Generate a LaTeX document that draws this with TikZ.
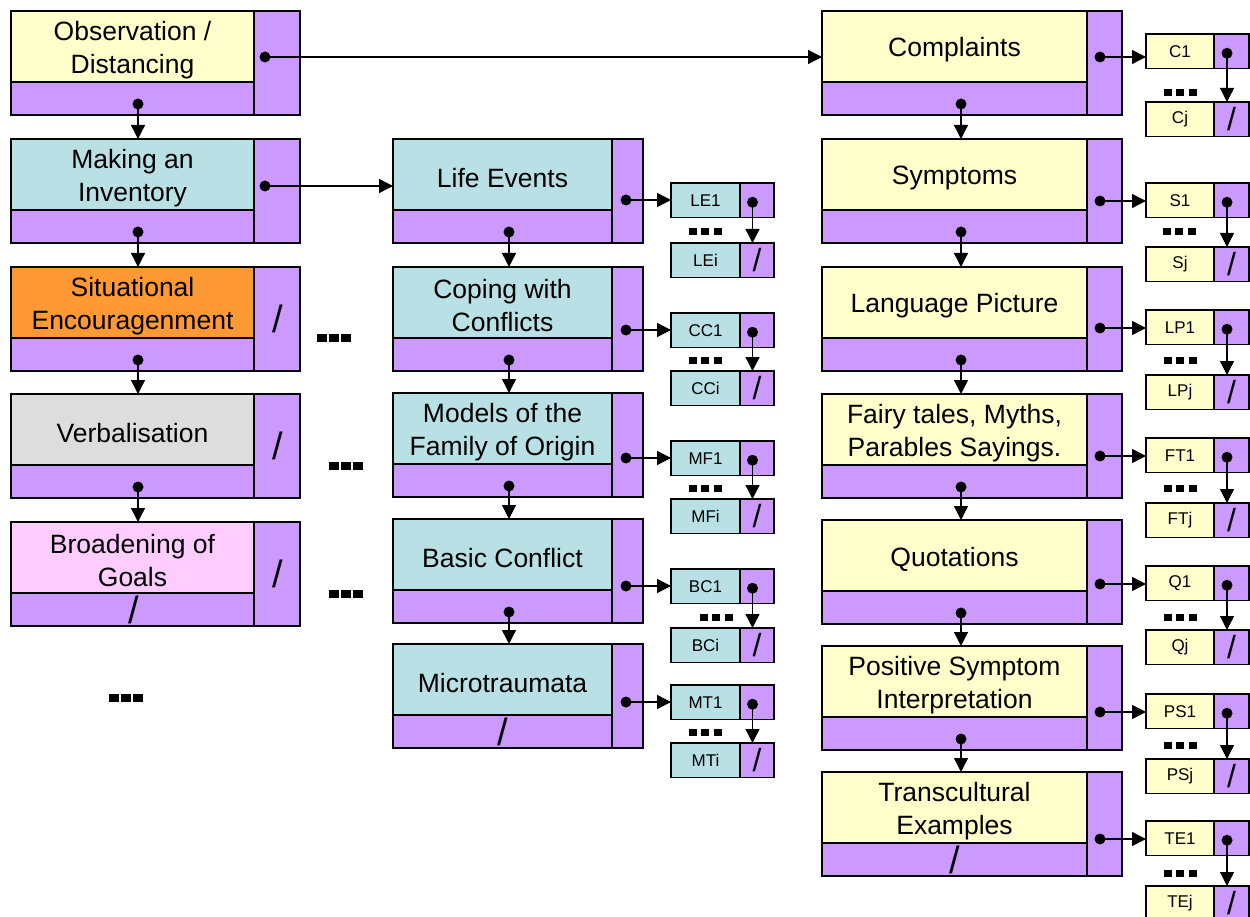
\documentclass[tikz,border=0pt]{standalone}
\usepackage{fontspec}
\setmainfont{Liberation Sans}
\usetikzlibrary{arrows.meta}

\definecolor{cellyellow}{HTML}{FFFFCC}
\definecolor{cellteal}{HTML}{B9E0E4}
\definecolor{cellpurple}{HTML}{CC99FF}
\definecolor{cellorange}{HTML}{FF9933}
\definecolor{cellgray}{HTML}{DDDDDD}
\definecolor{cellpink}{HTML}{FFCCFF}

\tikzset{
  boxcell/.style={rectangle, draw=black, line width=1.6pt, inner sep=0pt, outer sep=0pt},
  mainpart/.style={boxcell, minimum height=71pt},
  celltext/.style={inner sep=0pt, align=center, font=\fontsize{26.5}{33}\selectfont},
  lowerstrip/.style={boxcell, fill=cellpurple, minimum height=33pt},
  sidepart/.style={boxcell, fill=cellpurple, minimum height=104pt},
  leafcell/.style={boxcell, minimum height=34.5pt, font=\fontsize{17}{20}\selectfont},
  leafside/.style={boxcell, fill=cellpurple, minimum height=34.5pt},
  slashmark/.style={inner sep=0pt, font=\fontsize{38}{38}\selectfont},
  smallslash/.style={inner sep=0pt, font=\fontsize{32}{32}\selectfont},
  pointdot/.style={circle, fill=black, minimum size=11pt, inner sep=0pt, outer sep=0pt},
  linkarrow/.style={line width=1.4pt, -{Triangle[length=14pt,width=14pt]}},
}

% record with a text field, a lower pointer strip and a side pointer field
% #1 name, #2 left, #3 top, #4 main width, #5 side width, #6 fill, #7 text
\newcommand\bigcell[7]{%
  \node[mainpart, fill=#6, minimum width=#4pt, anchor=north west] (#1) at (#2,#3) {};
  \node[celltext] (#1-text) at ([yshift=-3.5pt]#1.center) {#7};
  \node[lowerstrip, minimum width=#4pt, anchor=north west] (#1-low) at (#1.south west) {};
  \node[sidepart, minimum width=#5pt, anchor=north west] (#1-side) at (#1.north east) {};
}

% first and last element of a short list
% #1 prefix, #2 left, #3 top of first, #4 top of last, #5 label width,
% #6 side width, #7 fill, #8 first label, #9 last label
\newcommand\leafpair[9]{%
  \node[leafcell, fill=#7, minimum width=#5pt, anchor=north west] (#1a) at (#2,#3) {#8};
  \node[leafside, minimum width=#6pt, anchor=north west] (#1a-side) at (#1a.north east) {};
  \node[leafcell, fill=#7, minimum width=#5pt, anchor=north west] (#1b) at (#2,#4) {#9};
  \node[leafside, minimum width=#6pt, anchor=north west] (#1b-side) at (#1b.north east) {};
  \node[smallslash] (#1b-slash) at (#1b-side.center) {/};
  \node[pointdot] (#1a-dot) at ([xshift=-4.5pt,yshift=-2pt]#1a-side.center) {};
  \draw[linkarrow] (#1a-dot.center) -- (#1a-dot |- #1b.north);
}

% square dots marking omitted elements
\newcommand\leafdots[2]{%
  \foreach \k in {-1,0,1} {\fill ({#1+\k*12.5-4},{#2-3.5}) rectangle ++(8,7);}
}
\newcommand\bigdots[2]{%
  \foreach \k in {-1,0,1} {\fill ({#1+\k*12-4.75},{#2-4}) rectangle ++(9.5,8);}
}

\begin{document}
\begin{tikzpicture}[x=1pt, y=-1pt]
\useasboundingbox (0,0) rectangle (1250,917);
\clip (0,0) rectangle (1250,917);

% ---------- left column ----------
\bigcell{obs}{11}{11}{243}{46}{cellyellow}{Observation /\\Distancing}
\bigcell{inv}{11}{139}{243}{46}{cellteal}{Making an\\Inventory}
\bigcell{sit}{11}{267}{243}{46}{cellorange}{Situational\\Encouragenment}
\bigcell{verb}{11}{394}{243}{46}{cellgray}{Verbalisation}
\bigcell{goal}{11}{522}{243}{46}{cellpink}{Broadening of\\Goals}

\node[pointdot] (obs-bd) at (138,104) {};
\node[pointdot] (inv-bd) at (138,232) {};
\node[pointdot] (sit-bd) at (138,360) {};
\node[pointdot] (verb-bd) at (138,487) {};
\draw[linkarrow] (obs-bd.center) -- (obs-bd |- inv.north);
\draw[linkarrow] (inv-bd.center) -- (inv-bd |- sit.north);
\draw[linkarrow] (sit-bd.center) -- (sit-bd |- verb.north);
\draw[linkarrow] (verb-bd.center) -- (verb-bd |- goal.north);

\node[slashmark] (sit-slash) at ([xshift=1pt]sit-side.center) {/};
\node[slashmark] (verb-slash) at ([xshift=1pt]verb-side.center) {/};
\node[slashmark] (goal-slash) at ([xshift=1pt]goal-side.center) {/};
\node[slashmark] (goal-lowslash) at ([xshift=1.5pt]goal-low.center) {/};

\node[pointdot] (obs-sd) at (265,57) {};
\node[pointdot] (inv-sd) at (265,186) {};

\bigdots{334}{338}
\bigdots{346}{466}
\bigdots{346}{594}
\bigdots{126}{698}

% ---------- middle column ----------
\bigcell{life}{393}{139}{219}{31}{cellteal}{Life Events}
\bigcell{cope}{393}{267}{219}{31}{cellteal}{Coping with\\Conflicts}
\bigcell{fam}{393}{393}{219}{31}{cellteal}{Models of the\\Family of Origin}
\bigcell{basic}{393}{519}{219}{31}{cellteal}{Basic Conflict}
\bigcell{micro}{393}{644}{219}{31}{cellteal}{Microtraumata}

\node[pointdot] (life-bd) at (509,232) {};
\node[pointdot] (cope-bd) at (509,360) {};
\node[pointdot] (fam-bd) at (509,486) {};
\node[pointdot] (basic-bd) at (509,612) {};
\draw[linkarrow] (life-bd.center) -- (life-bd |- cope.north);
\draw[linkarrow] (cope-bd.center) -- (cope-bd |- fam.north);
\draw[linkarrow] (fam-bd.center) -- (fam-bd |- basic.north);
\draw[linkarrow] (basic-bd.center) -- (basic-bd |- micro.north);
\node[slashmark] (micro-lowslash) at (micro-low.center) {/};

\leafpair{LE}{671}{183}{243}{69}{34}{cellteal}{LE1}{LEi}
\leafpair{CC}{671}{313}{371}{69}{34}{cellteal}{CC1}{CCi}
\leafpair{MF}{671}{441}{499}{69}{34}{cellteal}{MF1}{MFi}
\leafpair{BC}{671}{569}{628}{69}{34}{cellteal}{BC1}{BCi}
\leafpair{MT}{671}{685}{743}{69}{34}{cellteal}{MT1}{MTi}

\leafdots{705}{232}
\leafdots{705}{360}
\leafdots{705}{488}
\leafdots{716}{617}
\leafdots{705}{732}

\node[pointdot] (life-sd) at (626,200) {};
\node[pointdot] (cope-sd) at (626,330) {};
\node[pointdot] (fam-sd) at (626,458) {};
\node[pointdot] (basic-sd) at (626,586) {};
\node[pointdot] (micro-sd) at (626,702) {};
\draw[linkarrow] (life-sd.center) -- (life-sd -| LEa.west);
\draw[linkarrow] (cope-sd.center) -- (cope-sd -| CCa.west);
\draw[linkarrow] (fam-sd.center) -- (fam-sd -| MFa.west);
\draw[linkarrow] (basic-sd.center) -- (basic-sd -| BCa.west);
\draw[linkarrow] (micro-sd.center) -- (micro-sd -| MTa.west);

% ---------- right column ----------
\bigcell{compl}{822}{11}{265}{35}{cellyellow}{Complaints}
\bigcell{symp}{822}{139}{265}{35}{cellyellow}{Symptoms}
\bigcell{lang}{822}{267}{265}{35}{cellyellow}{Language Picture}
\bigcell{fairy}{822}{394}{265}{35}{cellyellow}{Fairy tales, Myths,\\Parables Sayings.}
\bigcell{quot}{822}{520}{265}{35}{cellyellow}{Quotations}
\bigcell{pos}{822}{646}{265}{35}{cellyellow}{Positive Symptom\\Interpretation}
\bigcell{trans}{822}{772}{265}{35}{cellyellow}{Transcultural\\Examples}

\node[pointdot] (compl-bd) at (961,104) {};
\node[pointdot] (symp-bd) at (961,232) {};
\node[pointdot] (lang-bd) at (961,360) {};
\node[pointdot] (fairy-bd) at (961,487) {};
\node[pointdot] (quot-bd) at (961,613) {};
\node[pointdot] (pos-bd) at (961,739) {};
\draw[linkarrow] (compl-bd.center) -- (compl-bd |- symp.north);
\draw[linkarrow] (symp-bd.center) -- (symp-bd |- lang.north);
\draw[linkarrow] (lang-bd.center) -- (lang-bd |- fairy.north);
\draw[linkarrow] (fairy-bd.center) -- (fairy-bd |- quot.north);
\draw[linkarrow] (quot-bd.center) -- (quot-bd |- pos.north);
\draw[linkarrow] (pos-bd.center) -- (pos-bd |- trans.north);
\node[slashmark] (trans-lowslash) at (trans-low.center) {/};

\leafpair{C}{1146}{34}{102}{68}{35}{cellyellow}{C1}{Cj}
\leafpair{S}{1146}{183}{247}{68}{35}{cellyellow}{S1}{Sj}
\leafpair{LP}{1146}{310}{375}{68}{35}{cellyellow}{LP1}{LPj}
\leafpair{FT}{1146}{438}{503}{68}{35}{cellyellow}{FT1}{FTj}
\leafpair{Q}{1146}{566}{630}{68}{35}{cellyellow}{Q1}{Qj}
\leafpair{PS}{1146}{694}{759}{68}{35}{cellyellow}{PS1}{PSj}
\leafpair{TE}{1146}{821}{886}{68}{35}{cellyellow}{TE1}{TEj}

\leafdots{1180}{93}
\leafdots{1179}{232}
\leafdots{1180}{360}
\leafdots{1180}{488}
\leafdots{1180}{617}
\leafdots{1180}{745}
\leafdots{1180}{873}

\node[pointdot] (compl-sd) at (1100,57) {};
\node[pointdot] (symp-sd) at (1100,201) {};
\node[pointdot] (lang-sd) at (1100,328) {};
\node[pointdot] (fairy-sd) at (1100,456) {};
\node[pointdot] (quot-sd) at (1100,584) {};
\node[pointdot] (pos-sd) at (1100,712) {};
\node[pointdot] (trans-sd) at (1100,839) {};
\draw[linkarrow] (compl-sd.center) -- (compl-sd -| Ca.west);
\draw[linkarrow] (symp-sd.center) -- (symp-sd -| Sa.west);
\draw[linkarrow] (lang-sd.center) -- (lang-sd -| LPa.west);
\draw[linkarrow] (fairy-sd.center) -- (fairy-sd -| FTa.west);
\draw[linkarrow] (quot-sd.center) -- (quot-sd -| Qa.west);
\draw[linkarrow] (pos-sd.center) -- (pos-sd -| PSa.west);
\draw[linkarrow] (trans-sd.center) -- (trans-sd -| TEa.west);

% ---------- links between columns ----------
\draw[linkarrow] (obs-sd.center) -- (obs-sd -| compl.west);
\draw[linkarrow] (inv-sd.center) -- (inv-sd -| life.west);

\end{tikzpicture}
\end{document}
